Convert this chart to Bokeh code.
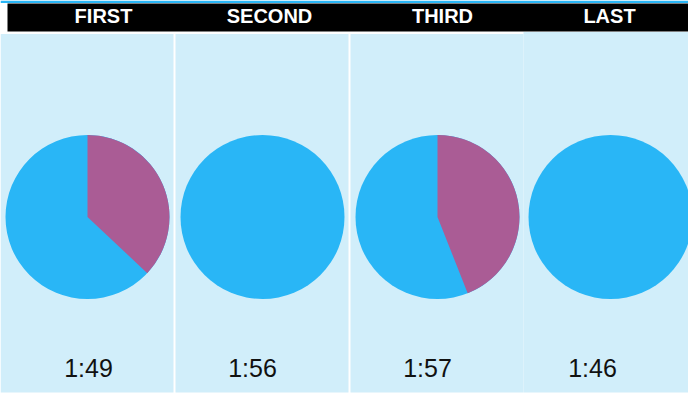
import math
from bokeh.plotting import figure
from bokeh.models import Range1d, ColumnDataSource
from bokeh.core.properties import value
from bokeh.embed import file_html
from bokeh.resources import INLINE

# ---- data ----
laps = ["FIRST", "SECOND", "THIRD", "LAST"]
purple_share = [37, 0, 44, 0]      # percent of the pie in purple
blue_share = [63, 100, 56, 100]    # percent of the pie in blue
times = ["1:49", "1:56", "1:57", "1:46"]

# ---- layout constants (page pixels) ----
W, H = 688, 394
OX, OY = 8, 8
BLUE = "#29B6F6"
PURPLE = "#AA5C95"
PANEL = "#D1EEFA"

def X(px):
    return px - OX

def Y(py):
    return (OY + H) - py

p = figure(width=W, height=H, output_backend="svg", toolbar_location=None,
           x_range=Range1d(0, W), y_range=Range1d(0, H),
           min_border=0, outline_line_color=None, background_fill_color="white",
           border_fill_color="white")
p.axis.visible = False
p.grid.visible = False

# top blue strip and black header
p.quad(left=[X(8)], right=[X(696)], top=[Y(8)], bottom=[Y(10.5)],
       fill_color=BLUE, line_color=None)
p.quad(left=[X(15)], right=[X(696)], top=[Y(11)], bottom=[Y(39)],
       fill_color="black", line_color=None)

# panels
panel_left = [8, 183, 358, 531]
panel_right = [181, 356, 531, 700]
panel_top = [41.5, 41.5, 41.5, 39.5]
p.quad(left=[X(v) for v in panel_left], right=[X(v) for v in panel_right],
       top=[Y(v) for v in panel_top], bottom=[Y(400)] * 4,
       fill_color=PANEL, line_color=None)

# pies
pie_cx = [95, 270, 445, 618]
pie_cy = 224.5
R = 82
p.circle(x=[X(v) for v in pie_cx], y=[Y(pie_cy)] * 4, radius=R,
         fill_color=BLUE, line_color=None)

wx, wy, ws, we = [], [], [], []
for cx, ps, bs in zip(pie_cx, purple_share, blue_share):
    frac = ps / (ps + bs)
    if frac > 0:
        wx.append(X(cx))
        wy.append(Y(pie_cy))
        ws.append(math.pi / 2 - 2 * math.pi * frac)
        we.append(math.pi / 2)
p.wedge(x=wx, y=wy, radius=R, start_angle=ws, end_angle=we,
        fill_color=PURPLE, line_color=None)

# header labels
header_x = [111, 277, 450, 617]
p.text(x=[X(v) for v in header_x], y=[Y(23)] * 4, text=laps,
       text_font=value("Liberation Sans"), text_font_size="20px",
       text_font_style="bold", text_color="white",
       text_align="center", text_baseline="middle")

# time labels
time_x = [96, 260, 435, 600]
p.text(x=[X(v) for v in time_x], y=[Y(375.5)] * 4, text=times,
       text_font=value("Liberation Sans"), text_font_size="25px",
       text_color="#111111", text_align="center", text_baseline="middle")

open("out.html", "w").write(file_html(p, INLINE))
